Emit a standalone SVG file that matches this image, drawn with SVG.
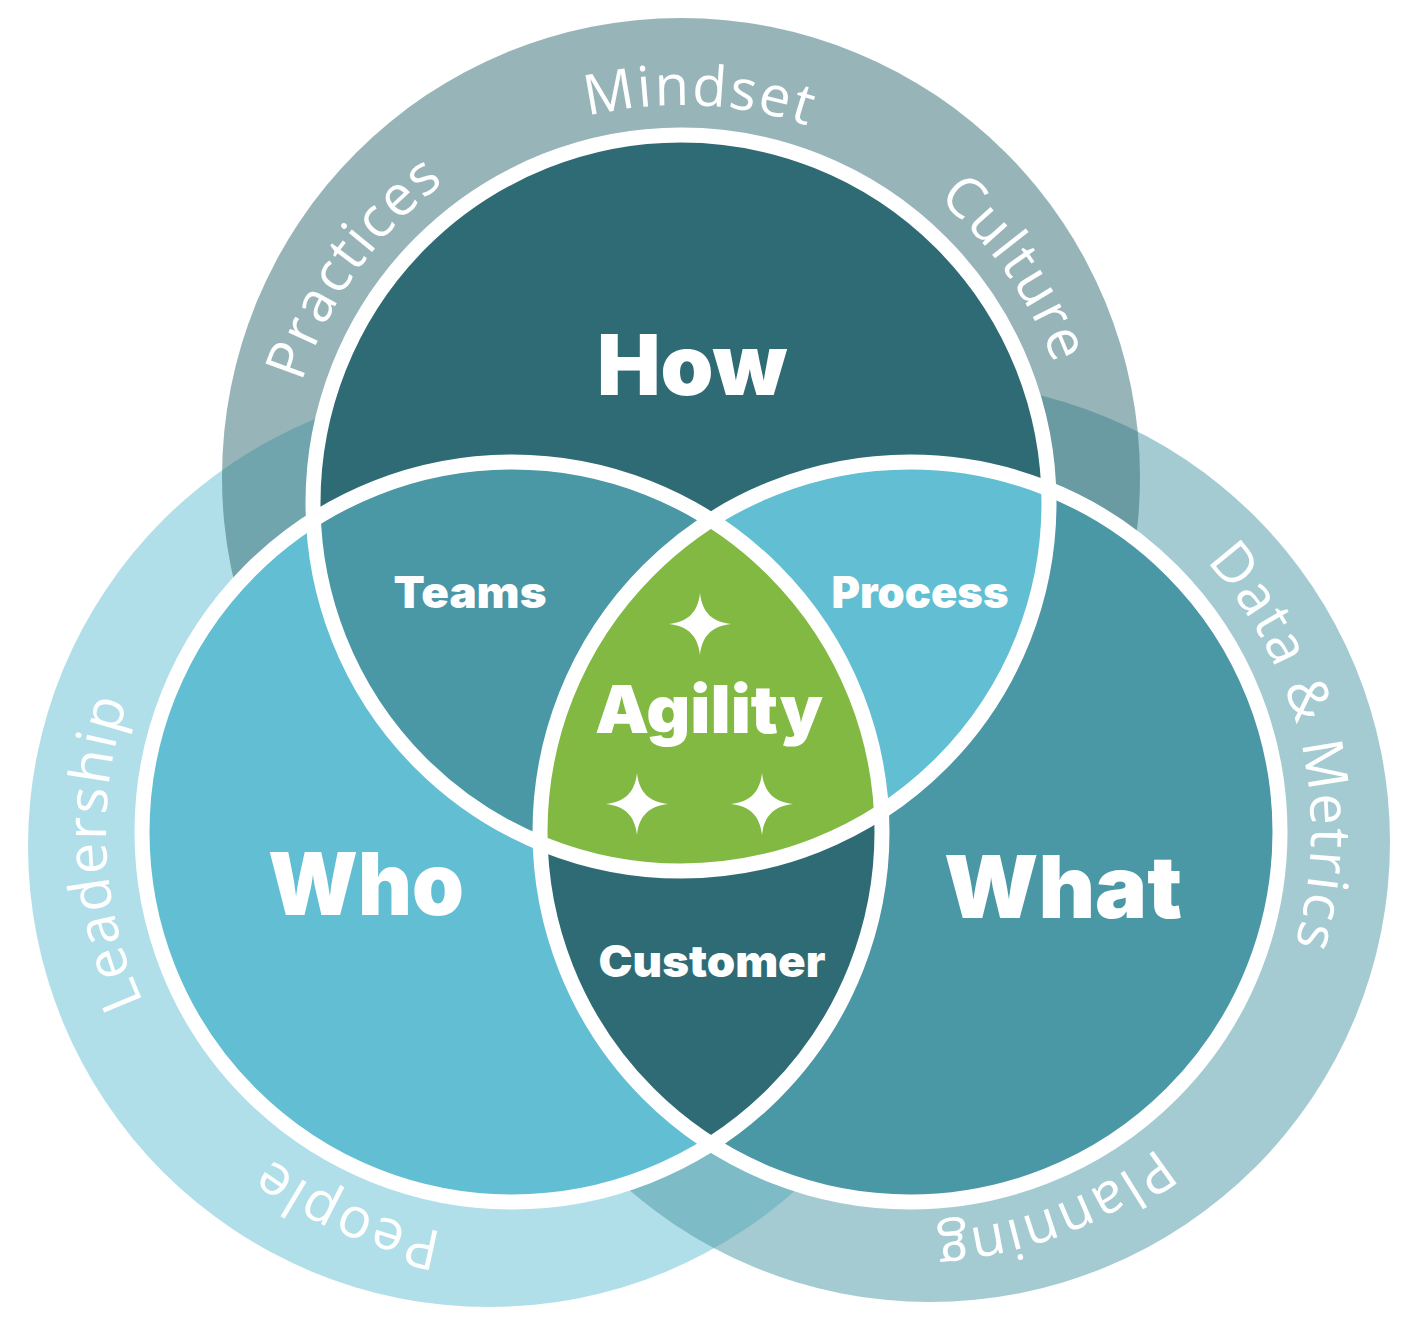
<svg xmlns="http://www.w3.org/2000/svg" width="1416" height="1334" viewBox="0 0 1416 1334">
<style>
.ringtxt { font-family: "Open Sans", "Liberation Sans", sans-serif; font-weight: 400; font-size: 56px; fill: #ffffff; letter-spacing: 2px; }
.lbl { font-family: Inter, "Liberation Sans", sans-serif; font-weight: 900; fill: #ffffff; text-anchor: middle; }
.outline { fill: none; stroke: #ffffff; stroke-width: 15; }
.ring { opacity: 0.5; }
.star { fill: #ffffff; }
</style>
<defs>
  <clipPath id="clip-how"><circle cx="681" cy="503" r="368"/></clipPath>
  <clipPath id="clip-who"><circle cx="512" cy="832" r="370"/></clipPath>
  <clipPath id="clip-what"><circle cx="910" cy="832" r="370"/></clipPath>
  <path id="p-practices" d="M318.3,666.8 A398,398 0 0 1 720.5,106.9" fill="none"/>
  <path id="p-mindset" d="M345.7,288.6 A398,398 0 0 1 1034.3,319.8" fill="none"/>
  <path id="p-culture" d="M646.3,106.5 A398,398 0 0 1 1041.7,671.2" fill="none"/>
  <path id="p-leadership" d="M327.1,1193.4 A406,406 0 0 1 291.5,491.1" fill="none"/>
  <path id="p-people" d="M754.6,1157.5 A406,406 0 0 1 108.8,879.4" fill="none"/>
  <path id="p-data" d="M1027.9,448.7 A401,401 0 0 1 1183.0,1125.7" fill="none"/>
  <path id="p-planning" d="M1305.8,896.1 A401,401 0 0 1 656.6,1142.7" fill="none"/>
  <path id="star" d="M0,-31 C2,-12 12,-2 31,0 C12,2 2,12 0,31 C-2,12 -12,2 -31,0 C-12,-2 -2,-12 0,-31 Z"/>
</defs>
<rect width="1416" height="1334" fill="#ffffff"/>

<g id="ring-who">
  <circle class="ring" cx="489" cy="846" r="461" fill="#62bfd3"/>
  <text class="ringtxt" text-anchor="middle"><textPath href="#p-leadership" startOffset="50%">Leadership</textPath></text>
  <text class="ringtxt" text-anchor="middle"><textPath href="#p-people" startOffset="50%">People</textPath></text>
</g>
<g id="ring-what">
  <circle class="ring" cx="930" cy="842" r="460" fill="#4a97a6"/>
  <text class="ringtxt" text-anchor="middle"><textPath href="#p-data" startOffset="50%">Data &amp; Metrics</textPath></text>
  <text class="ringtxt" text-anchor="middle"><textPath href="#p-planning" startOffset="50%">Planning</textPath></text>
</g>
<g id="ring-how">
  <circle class="ring" cx="681" cy="477" r="459" fill="#2f6b74"/>
  <text class="ringtxt" text-anchor="middle"><textPath href="#p-practices" startOffset="50%">Practices</textPath></text>
  <text class="ringtxt" text-anchor="middle"><textPath href="#p-mindset" startOffset="50%">Mindset</textPath></text>
  <text class="ringtxt" text-anchor="middle"><textPath href="#p-culture" startOffset="50%">Culture</textPath></text>
</g>

<g id="who">
  <circle cx="512" cy="832" r="370" fill="#62bfd3"/>
  <text class="lbl" x="366" y="915" font-size="86" textLength="196" lengthAdjust="spacingAndGlyphs">Who</text>
</g>
<g id="what">
  <circle cx="910" cy="832" r="370" fill="#4a97a6"/>
  <text class="lbl" x="1063" y="918" font-size="86" textLength="238" lengthAdjust="spacingAndGlyphs">What</text>
</g>
<g id="how">
  <circle cx="681" cy="503" r="368" fill="#2f6b74"/>
  <text class="lbl" x="692" y="395" font-size="84" textLength="190" lengthAdjust="spacingAndGlyphs">How</text>
</g>
<g id="teams">
  <circle cx="681" cy="503" r="368" fill="#4a97a6" clip-path="url(#clip-who)"/>
  <text class="lbl" x="470" y="608" font-size="44" textLength="153" lengthAdjust="spacingAndGlyphs">Teams</text>
</g>
<g id="process">
  <circle cx="681" cy="503" r="368" fill="#62bfd3" clip-path="url(#clip-what)"/>
  <text class="lbl" x="920" y="608" font-size="44" textLength="177" lengthAdjust="spacingAndGlyphs">Process</text>
</g>
<g id="customer">
  <circle cx="910" cy="832" r="370" fill="#2f6b74" clip-path="url(#clip-who)"/>
  <text class="lbl" x="712" y="977" font-size="44" textLength="227" lengthAdjust="spacingAndGlyphs">Customer</text>
</g>
<g id="agility">
  <g clip-path="url(#clip-who)">
    <circle cx="681" cy="503" r="368" fill="#82b942" clip-path="url(#clip-what)"/>
  </g>
  <text class="lbl" x="709" y="733" font-size="66" textLength="228" lengthAdjust="spacingAndGlyphs">Agility</text>
  <use href="#star" class="star" transform="translate(700,624)"/>
  <use href="#star" class="star" transform="translate(637,804)"/>
  <use href="#star" class="star" transform="translate(762,804)"/>
</g>

<g id="outlines">
  <circle class="outline" cx="512" cy="832" r="370"/>
  <circle class="outline" cx="910" cy="832" r="370"/>
  <circle class="outline" cx="681" cy="503" r="368"/>
</g>
<g id="connectors"/>
</svg>
